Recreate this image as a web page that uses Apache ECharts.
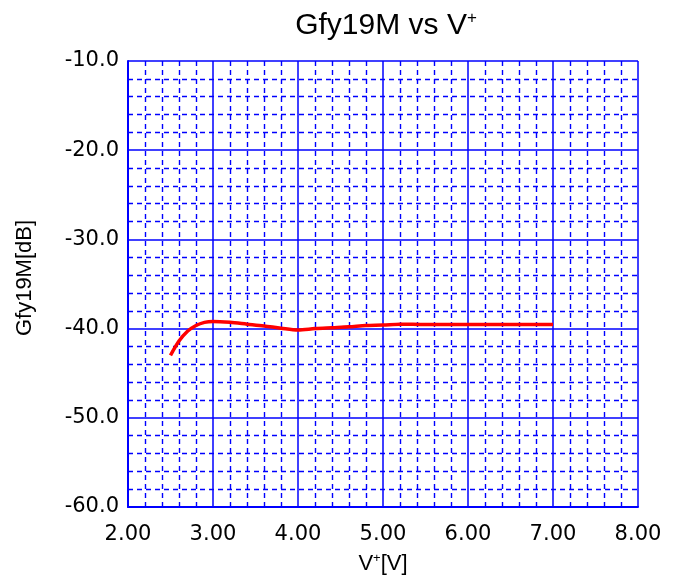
<!DOCTYPE html>
<html><head><meta charset="utf-8">
<script src="https://cdn.jsdelivr.net/npm/echarts@6/dist/echarts.min.js"></script>
<style>html,body{margin:0;padding:0;background:#fff}#c{width:680px;height:585px}</style>
</head><body><div id="c"></div>
<script>
const xValues = [2.5, 2.6, 2.7, 2.8, 2.9, 3.0, 3.2, 3.4, 3.6, 3.8, 4.0, 4.2, 4.4, 4.6, 4.8, 5.0, 5.2, 5.5, 6.0, 6.5, 7.0];
const gfyValues = [-43.0, -41.4, -40.3, -39.65, -39.3, -39.2, -39.3, -39.5, -39.7, -39.95, -40.15, -40.0, -39.9, -39.8, -39.65, -39.6, -39.5, -39.55, -39.55, -39.55, -39.55];
const xTickLabels = ['2.00', '3.00', '4.00', '5.00', '6.00', '7.00', '8.00'];
const yTickLabels = ['-60.0', '-50.0', '-40.0', '-30.0', '-20.0', '-10.0'];
const blue = '#0000ff';
const font = '"Liberation Sans", Arial, sans-serif';
const tickFont = '"DejaVu Sans", sans-serif';
const chart = echarts.init(document.getElementById('c'), null, {renderer: 'canvas'});
chart.setOption({
  animation: false,
  backgroundColor: '#fff',
  title: {
    text: '{a|Gfy19M vs V}{s|+}',
    left: 381, top: 5, textAlign: 'center',
    textStyle: {
      fontFamily: font, fontWeight: 'normal', fontSize: 30, color: '#000',
      rich: {
        a: {fontFamily: font, fontSize: 30, color: '#000'},
        s: {fontFamily: font, fontSize: 17, color: '#000', verticalAlign: 'top', padding: [0,0,14,0]}
      }
    }
  },
  grid: {left: 128, right: 42, top: 61, bottom: 78},
  xAxis: {
    type: 'value', min: 2, max: 8, interval: 1,
    name: '{a|V}{s|+}{a|[V]}', nameLocation: 'middle', nameGap: 45,
    nameTextStyle: {
      fontFamily: font, fontSize: 22, color: '#000',
      rich: {
        a: {fontFamily: font, fontSize: 22, color: '#000'},
        s: {fontFamily: font, fontSize: 13, color: '#000', verticalAlign: 'top', padding: [0,0,10,0]}
      }
    },
    axisLine: {show: true, lineStyle: {color: blue, width: 2}},
    axisTick: {show: false},
    axisLabel: {formatter: v => xTickLabels[Math.round(v - 2)], fontFamily: tickFont, fontSize: 21, color: '#000', margin: 17},
    splitLine: {show: true, lineStyle: {color: blue, width: 1.5}},
    minorTick: {show: false, splitNumber: 5},
    minorSplitLine: {show: true, lineStyle: {color: blue, width: 1.4, type: [5, 4]}}
  },
  yAxis: {
    type: 'value', min: -60, max: -10, interval: 10,
    name: 'Gfy19M[dB]', nameLocation: 'middle', nameGap: 92,
    nameTextStyle: {fontFamily: font, fontSize: 22, color: '#000', padding: [0, 0, 0, 12]},
    axisLine: {show: true, lineStyle: {color: blue, width: 2}},
    axisTick: {show: false},
    axisLabel: {formatter: v => yTickLabels[Math.round((v + 60) / 10)], fontFamily: tickFont, fontSize: 21, color: '#000', margin: 9},
    splitLine: {show: true, lineStyle: {color: blue, width: 1.5}},
    minorTick: {show: false, splitNumber: 5},
    minorSplitLine: {show: true, lineStyle: {color: blue, width: 1.4, type: [5, 4]}}
  },
  series: [{
    type: 'line',
    data: xValues.map((x, i) => [x, gfyValues[i]]),
    smooth: 0.3,
    symbol: 'none',
    lineStyle: {color: '#ff0000', width: 3.5}
  }]
});
</script></body></html>
